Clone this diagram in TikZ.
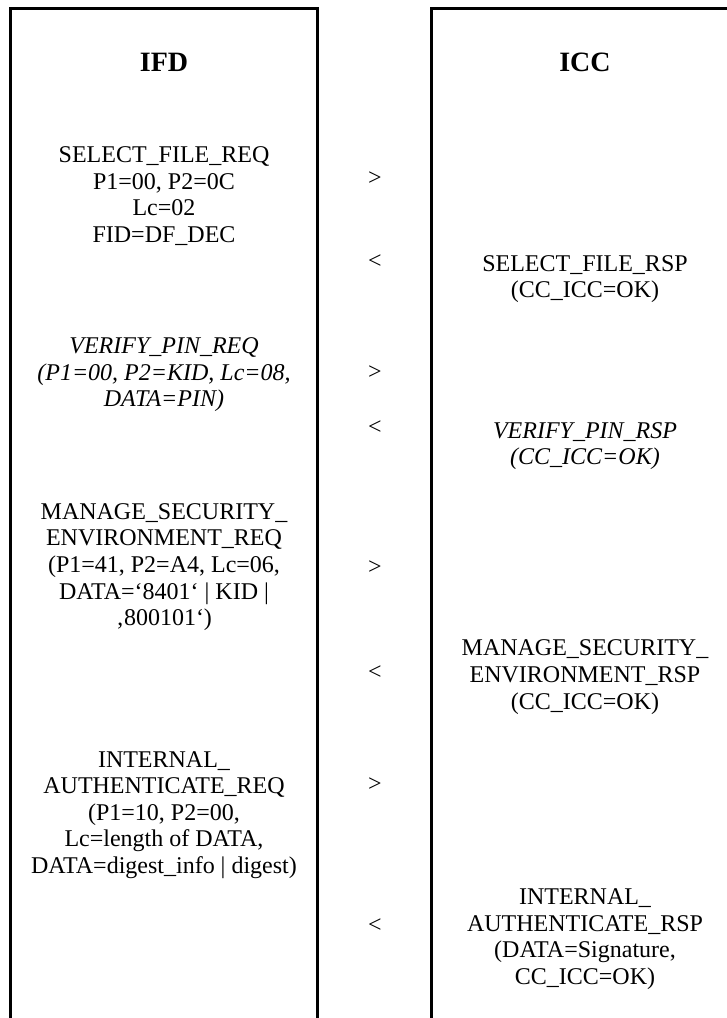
\documentclass[tikz,border=0pt]{standalone}
\usepackage{fontspec}
\setmainfont{Liberation Serif}

\begin{document}
\begin{tikzpicture}[x=0.5pt, y=-0.5pt,
	lane/.style={line width=1.5pt},
	head/.style={font=\fontsize{14}{16}\selectfont\bfseries, inner sep=0pt},
	msg/.style={align=center, font=\fontsize{12}{13.3}\selectfont, inner sep=0pt},
	imsg/.style={msg, font=\fontsize{12}{13.3}\selectfont\itshape},
	dir/.style={font=\fontsize{12}{13.3}\selectfont, inner sep=0pt}]
	\useasboundingbox (0,0) rectangle (727,1018);
	\clip (0,0) rectangle (727,1018);
	% the two boxes, open at the bottom
	\coordinate (IFDbl) at (10,1030);
	\coordinate (IFDtl) at (10,8);
	\coordinate (IFDtr) at (317.5,8);
	\coordinate (IFDbr) at (317.5,1030);
	\coordinate (ICCbl) at (431.5,1030);
	\coordinate (ICCtl) at (431.5,8);
	\coordinate (ICCtr) at (739,8);
	\coordinate (ICCbr) at (739,1030);
	\draw [lane] (IFDbl) -- (IFDtl) -- (IFDtr) -- (IFDbr);
	\draw [lane] (ICCbl) -- (ICCtl) -- (ICCtr) -- (ICCbr);
	\node [head] (ifd) at (164,62) {IFD};
	\node [head] (icc) at (585,62) {ICC};
	% requests of the IFD
	\node [msg] (selreq) at (164,196) {SELECT\_FILE\_REQ\\P1=00, P2=0C\\Lc=02\\FID=DF\_DEC};
	\node [imsg] (verreq) at (164,375) {VERIFY\_PIN\_REQ\\(P1=00, P2=KID, Lc=08,\\DATA=PIN)};
	\node [msg] (msereq) at (164,567) {MANAGE\_SECURITY\_\\ENVIRONMENT\_REQ\\(P1=41, P2=A4, Lc=06,\\DATA=‘8401‘ | KID |\\‚800101‘)};
	\node [msg] (intreq) at (164,815) {INTERNAL\_\\AUTHENTICATE\_REQ\\(P1=10, P2=00,\\Lc=length of DATA,\\DATA=digest\_info | digest)};
	% responses of the ICC
	\node [msg] (selrsp) at (585,279) {SELECT\_FILE\_RSP\\(CC\_ICC=OK)};
	\node [imsg] (verrsp) at (585,446) {VERIFY\_PIN\_RSP\\(CC\_ICC=OK)};
	\node [msg] (msersp) at (585,677) {MANAGE\_SECURITY\_\\ENVIRONMENT\_RSP\\(CC\_ICC=OK)};
	\node [msg] (intrsp) at (585,939) {INTERNAL\_\\AUTHENTICATE\_RSP\\(DATA=Signature,\\CC\_ICC=OK)};
	% direction marks
	\node [dir] (go1) at (375,179) {>};
	\node [dir] (back1) at (375,262) {<};
	\node [dir] (go2) at (375,373) {>};
	\node [dir] (back2) at (375,428) {<};
	\node [dir] (go3) at (375,568) {>};
	\node [dir] (back3) at (375,673) {<};
	\node [dir] (go4) at (375,785) {>};
	\node [dir] (back4) at (375,926) {<};
\end{tikzpicture}
\end{document}
